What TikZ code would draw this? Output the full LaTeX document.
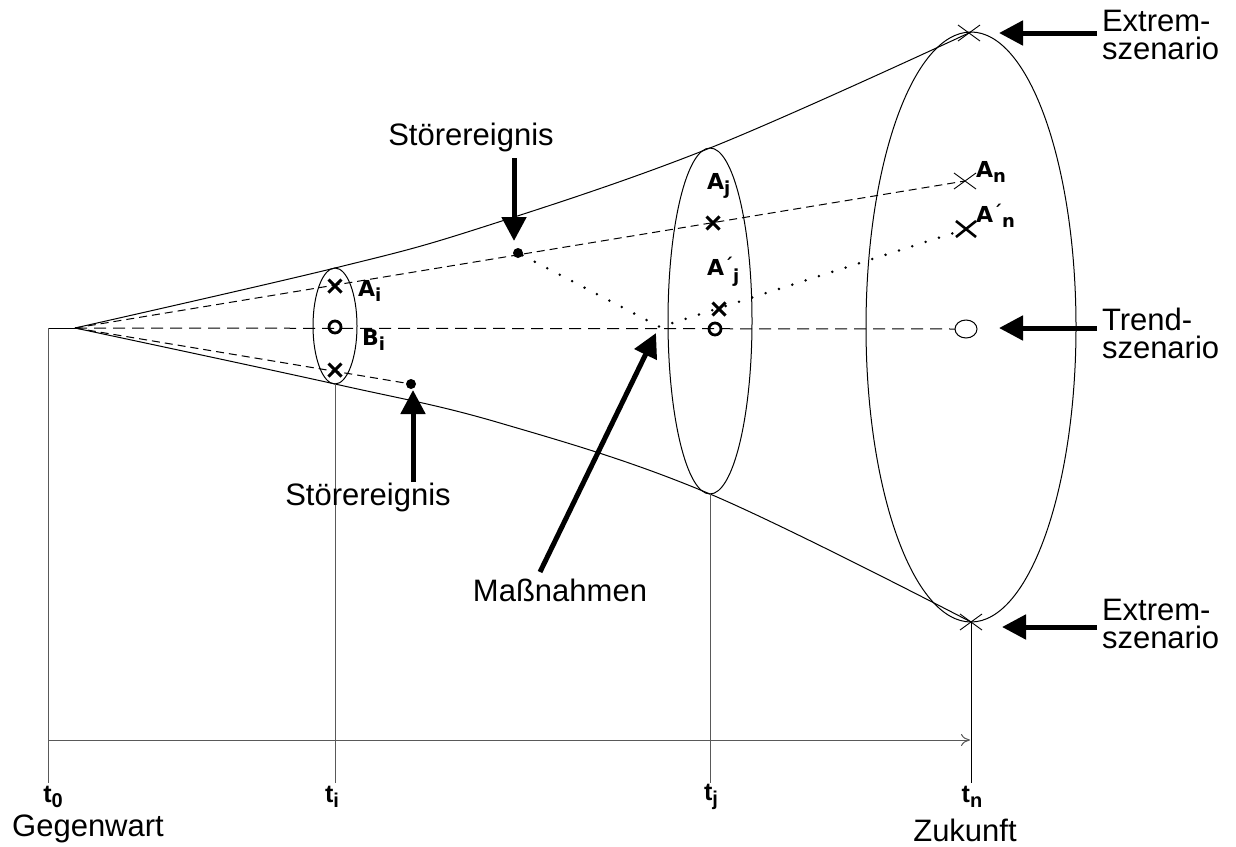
\documentclass[tikz,border=0pt]{standalone}
\usepackage{fontspec}
\setmainfont{Liberation Sans}
\newfontfamily\lblfont{DejaVu Sans}
\usetikzlibrary{arrows.meta,shapes.geometric,shapes.misc}
\begin{document}
\begin{tikzpicture}[x=1pt,y=-1pt,
  every node/.style={inner sep=0pt, outer sep=0pt},
  thinline/.style={line width=1pt, black},
  grayline/.style={line width=1pt, black!65},
  bigarrow/.style={line width=5pt, -{Triangle[length=24pt,width=24pt]}},
  big/.style={font=\fontsize{31}{28}\selectfont},
  tlabel/.style={font=\bfseries\fontsize{25}{25}\selectfont},
  idx/.style={font=\lblfont\bfseries\fontsize{22}{22}\selectfont},
  boldx/.style={cross out, draw, line width=3pt, minimum width=13pt, minimum height=13pt},
  boldo/.style={circle, draw, line width=2.8pt, minimum size=12pt},
  thinx/.style={cross out, draw, line width=0.9pt, minimum width=22pt, minimum height=16pt},
  dot/.style={circle, fill, minimum size=10pt},
  dashA/.style={line width=1pt, dash pattern=on 8pt off 5pt},
  dashB/.style={line width=1pt, dash pattern=on 12pt off 7pt},
  dots/.style={line width=2.8pt, line cap=round, dash pattern=on 0pt off 14pt},
]
\useasboundingbox (0,0) rectangle (1236,846);

% ellipses
\node[ellipse, draw, thinline, minimum width=44pt, minimum height=116pt] (e1) at (335,326) {};
\node[ellipse, draw, thinline, minimum width=84pt, minimum height=346pt] (e2) at (710,321) {};
\node[ellipse, draw, thinline, minimum width=210pt, minimum height=590pt] (e3) at (971,327) {};

\coordinate (apex) at (75,328);
\coordinate (base) at (48,328);

% cone outline
\draw[thinline] plot[smooth, tension=0.6] coordinates {(apex) (e1.north) (480,228) (e2.north) (e3.north)};
\draw[thinline] plot[smooth, tension=0.6] coordinates {(apex) (e1.south) (500,423) (e2.south) (e3.south)};

% marks
\node[boldx] (xAi) at (335,286) {};
\node[boldo] (oBi) at (335,327) {};
\node[boldx] (xCi) at (335,370) {};
\node[dot] (d1) at (518,253) {};
\node[dot] (d2) at (411,384) {};
\node[boldx] (xAj) at (713,223) {};
\node[boldx] (xAjp) at (719,309) {};
\node[boldo] (oBj) at (715,329) {};
\node[thinx] (xAn) at (965,181) {};
\node[cross out, draw, line width=2.6pt, minimum width=20pt, minimum height=16pt] (xAnp) at (966,229) {};
\node[ellipse, draw, thinline, minimum width=22pt, minimum height=18pt] (trend) at (966,329) {};
\node[thinx] (xtop) at (969,33) {};
\node[thinx] (xbot) at (971,622) {};

% index labels
\node[idx, anchor=west] (lAi) at (358,291) {A\raisebox{-0.45ex}{\fontsize{18}{18}\selectfont i}};
\node[idx, anchor=west] (lBi) at (362,340) {B\raisebox{-0.45ex}{\fontsize{18}{18}\selectfont i}};
\node[idx, anchor=west] (lAj) at (707,186) {A\raisebox{-0.45ex}{\fontsize{18}{18}\selectfont j}};
\node[idx, anchor=west] (lAjp) at (707,272) {A\raisebox{0.3ex}{\fontsize{18}{18}\selectfont ´}\raisebox{-0.6ex}{\fontsize{18}{18}\selectfont j}};
\node[idx, anchor=west] (lAn) at (976,172) {A\raisebox{-0.45ex}{\fontsize{18}{18}\selectfont n}};
\node[idx, anchor=west] (lAnp) at (976,216) {A\raisebox{0.3ex}{\fontsize{18}{18}\selectfont ´}\raisebox{-0.45ex}{\fontsize{18}{18}\selectfont n}};

% scenario lines
\coordinate (meet) at (660,327);
\draw[dashA] (apex) -- (xAn.center);
\draw[dashB] (apex) -- (trend.west);
\draw[dashA] (apex) -- (d2);
\draw[dots] (d1) -- (meet) -- (xAnp.center);

% time axis
\coordinate (t0b) at (48,783);
\coordinate (tib) at (335,783);
\coordinate (tjb) at (710,783);
\coordinate (tnb) at (971,783);
\coordinate (ax0) at (48,740);
\coordinate (ax1) at (970,740);
\draw[thinline] (base) -- (apex);
\draw[grayline] (base) -- (t0b);
\draw[grayline] (e1.south) -- (tib);
\draw[grayline] (e2.south) -- (tjb);
\draw[thinline] (e3.south) -- (tnb);
\draw[grayline, -{To[length=9pt,width=12pt]}] (ax0) -- (ax1);

\node[tlabel] (t0) at (53,797) {t\raisebox{-0.4ex}{\fontsize{20}{20}\selectfont 0}};
\node[tlabel] (ti) at (332,797) {t\raisebox{-0.4ex}{\fontsize{20}{20}\selectfont i}};
\node[tlabel] (tj) at (711,797) {t\raisebox{-0.4ex}{\fontsize{20}{20}\selectfont j}};
\node[tlabel] (tn) at (972,797) {t\raisebox{-0.4ex}{\fontsize{20}{20}\selectfont n}};
\node[big] (geg) at (88,829) {Gegenwart};
\node[big] (zuk) at (965,830) {Zukunft};

% annotations
\node[big] (st1) at (471,137) {Störereignis};
\coordinate (a1s) at (514,158);
\coordinate (a1e) at (514,241);
\draw[bigarrow] (a1s) -- (a1e);

\node[big] (st2) at (368,497) {Störereignis};
\coordinate (a2s) at (413,482);
\coordinate (a2e) at (413,390);
\draw[bigarrow] (a2s) -- (a2e);

\node[big] (mass) at (560,590) {Maßnahmen};
\coordinate (a3s) at (540,572);
\coordinate (a3e) at (656,333);
\draw[bigarrow] (a3s) -- (a3e);

\node[big, align=left, anchor=west] (ex1) at (1102,35) {Extrem-\\szenario};
\node[big, align=left, anchor=west] (tr) at (1102,333) {Trend-\\szenario};
\node[big, align=left, anchor=west] (ex2) at (1102,624) {Extrem-\\szenario};
\coordinate (r1s) at (1097,33);
\coordinate (r1e) at (999,33);
\coordinate (r2s) at (1097,328);
\coordinate (r2e) at (999,328);
\coordinate (r3s) at (1097,627);
\coordinate (r3e) at (1002,627);
\draw[bigarrow] (r1s) -- (r1e);
\draw[bigarrow] (r2s) -- (r2e);
\draw[bigarrow] (r3s) -- (r3e);
\end{tikzpicture}
\end{document}
